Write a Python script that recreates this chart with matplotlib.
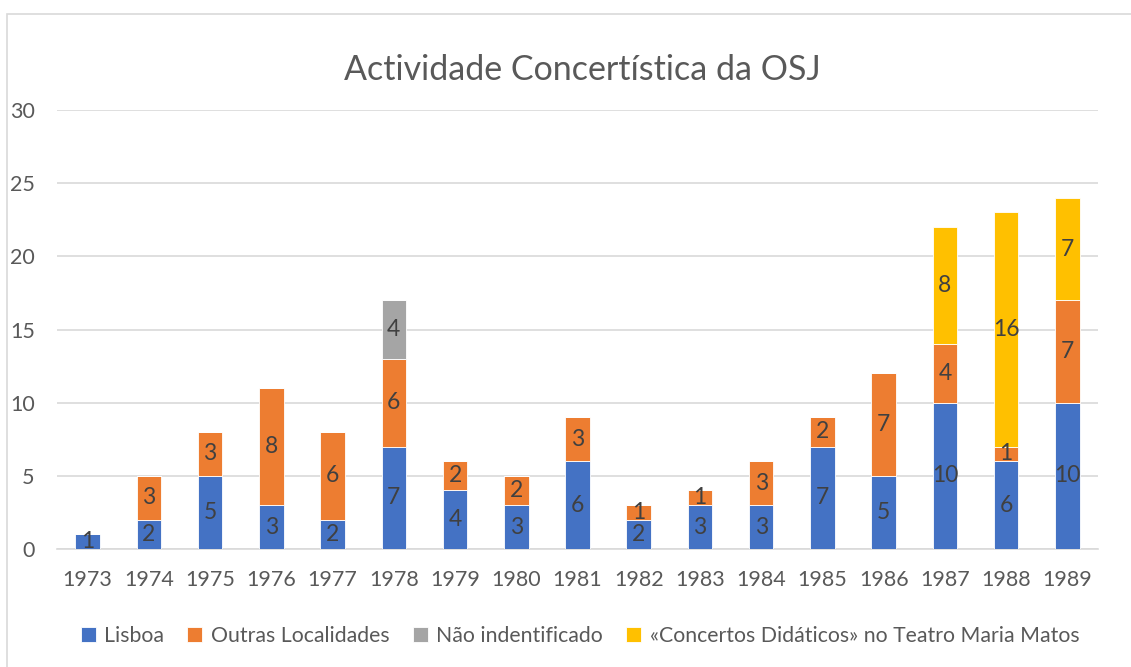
import numpy as np
import matplotlib
matplotlib.use("Agg")
import matplotlib.pyplot as plt
from matplotlib.patches import Rectangle

# data
years = [str(y) for y in range(1973, 1990)]
lisboa = [1, 2, 5, 3, 2, 7, 4, 3, 6, 2, 3, 3, 7, 5, 10, 6, 10]
outras = [0, 3, 3, 8, 6, 6, 2, 2, 3, 1, 1, 3, 2, 7, 4, 1, 7]
nao_ident = [0, 0, 0, 0, 0, 4, 0, 0, 0, 0, 0, 0, 0, 0, 0, 0, 0]
didaticos = [0, 0, 0, 0, 0, 0, 0, 0, 0, 0, 0, 0, 0, 0, 8, 16, 7]

series = [
    ("Lisboa", lisboa, "#4472C4"),
    ("Outras Localidades", outras, "#ED7D31"),
    ("Não indentificado", nao_ident, "#A5A5A5"),
    ("«Concertos Didáticos» no Teatro Maria Matos", didaticos, "#FFC000"),
]

plt.rcParams['font.family'] = ['Lato', 'DejaVu Sans']
text_col = "#595959"

fig = plt.figure(figsize=(11.31, 6.67), dpi=100)
ax = fig.add_axes([57 / 1131, 1 - 549 / 667, (1098 - 57) / 1131, (549 - 110) / 667])

# light chart-area border
fig.patches.append(Rectangle((7 / 1131, -0.01), 1.1, 1 - 14 / 667 + 0.01,
                             transform=fig.transFigure, fill=False,
                             edgecolor="#D9D9D9", linewidth=1.2))

x = np.arange(len(years))
bottom = np.zeros(len(years))
for name, vals, col in series:
    vals = np.array(vals)
    ax.bar(x, vals, 0.4, bottom=bottom, color=col, label=name,
           edgecolor="white", linewidth=0.6, zorder=3)
    for xi, v, b in zip(x, vals, bottom):
        if v > 0:
            ax.text(xi, b + v / 2, str(v), ha="center", va="center",
                    fontsize=16.5, color="#404040", zorder=4)
    bottom += vals

ax.set_xlim(-0.5, len(years) - 0.5)
ax.set_ylim(0, 30)
ax.set_yticks(range(0, 31, 5))
ax.set_xticks(x)
ax.set_xticklabels(years)
ax.yaxis.grid(True, color="#D9D9D9", linewidth=1.2, zorder=0)
ax.tick_params(axis="both", length=0, labelsize=15.5, labelcolor=text_col)
ax.tick_params(axis="x", pad=15)
ax.tick_params(axis="y", pad=16)
for s in ["top", "right", "left"]:
    ax.spines[s].set_visible(False)
ax.spines["bottom"].set_color("#D9D9D9")
ax.spines["bottom"].set_linewidth(1.2)

fig.text(582 / 1131, 1 - 70 / 667, "Actividade Concertística da OSJ",
         ha="center", va="center", fontsize=24.5, color=text_col)

fig.legend(loc="center", bbox_to_anchor=(580 / 1131, 1 - 636 / 667), ncol=4,
           frameon=False, fontsize=15.3, labelcolor=text_col,
           handlelength=0.7, handleheight=0.7, handletextpad=0.4,
           columnspacing=1.1)

fig.savefig("out.png", dpi=100)
